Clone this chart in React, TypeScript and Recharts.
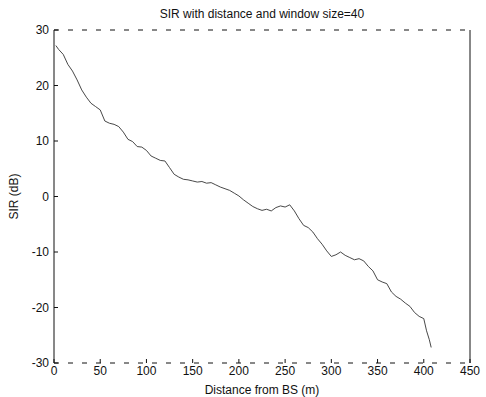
import { Label, Line, LineChart, XAxis, YAxis } from "recharts";

const distance = [
  2, 5, 10, 15, 20, 25, 30, 35, 40, 45, 50, 55, 60, 65, 70, 75, 80, 85, 90, 95,
  100, 105, 110, 115, 120, 125, 130, 135, 140, 145, 150, 155, 160, 165, 170,
  175, 180, 185, 190, 195, 200, 205, 210, 215, 220, 225, 230, 235, 240, 245,
  250, 255, 260, 265, 270, 275, 280, 285, 290, 295, 300, 305, 310, 315, 320,
  325, 330, 335, 340, 345, 350, 355, 360, 365, 370, 375, 380, 385, 390, 395,
  400, 403, 406, 408,
];

const sir = [
  27.2, 26.5, 25.6, 23.8, 22.6, 21.0, 19.2, 17.9, 16.8, 16.2, 15.6, 13.6,
  13.2, 13.0, 12.6, 11.6, 10.3, 9.9, 9.0, 8.9, 8.3, 7.3, 6.9, 6.5, 6.4, 5.2,
  4.0, 3.5, 3.1, 3.0, 2.8, 2.6, 2.7, 2.4, 2.5, 2.1, 1.7, 1.4, 1.1, 0.6, 0.1,
  -0.6, -1.2, -1.8, -2.2, -2.5, -2.3, -2.6, -2.0, -1.7, -1.9, -1.5, -2.6, -4.0,
  -5.2, -5.6, -6.4, -7.6, -8.6, -9.8, -10.8, -10.5, -10.0, -10.6, -11.0, -11.4,
  -11.2, -11.6, -12.6, -13.4, -15.0, -15.4, -15.7, -17.2, -18.0, -18.5, -19.2,
  -19.8, -20.9, -21.6, -22.0, -24.2, -25.8, -27.2,
];

const xTicks = [0, 50, 100, 150, 200, 250, 300, 350, 400, 450];
const yTicks = [-30, -20, -10, 0, 10, 20, 30];

const title = "SIR with distance and window size=40";

const data = distance.map((d, i) => ({ d, sir: sir[i] }));

const FONT = "'Liberation Sans', Arial, sans-serif";
const tickStyle = { fontSize: 12, fill: "#111", fontFamily: FONT };

export default function App() {
  return (
    <div style={{ position: "absolute", left: 0, top: 0, width: 486, height: 397, background: "#fff" }}>
      <div
        style={{
          position: "absolute",
          left: 54,
          width: 416,
          top: 7,
          textAlign: "center",
          fontSize: 12,
          fontFamily: FONT,
          color: "#111",
        }}
      >
        {title}
      </div>
      <LineChart
        width={486}
        height={397}
        data={data}
        margin={{ top: 29, right: 15, bottom: 0, left: 0 }}
      >
        <XAxis
          xAxisId="bottom"
          dataKey="d"
          type="number"
          domain={[0, 450]}
          ticks={xTicks}
          height={34}
          tickSize={-4}
          tickMargin={7}
          stroke="#111"
          axisLine={{ stroke: "#111", strokeDasharray: "5 9" }}
          tick={tickStyle}
        >
          <Label
            value="Distance from BS (m)"
            position="insideBottom"
            offset={3}
            style={{ fontSize: 12, fill: "#111", fontFamily: FONT }}
          />
        </XAxis>
        <XAxis
          xAxisId="top"
          orientation="top"
          dataKey="d"
          type="number"
          domain={[0, 450]}
          ticks={xTicks}
          height={1}
          tickSize={-4}
          tick={false}
          stroke="#111"
          axisLine={{ stroke: "#111", strokeDasharray: "5 9" }}
        />
        <YAxis
          yAxisId="left"
          type="number"
          domain={[-30, 30]}
          ticks={yTicks}
          width={54}
          tickSize={-4}
          tickMargin={9}
          stroke="#111"
          tick={tickStyle}
        >
          <Label
            value="SIR (dB)"
            angle={-90}
            position="insideLeft"
            offset={14}
            style={{ textAnchor: "middle", fontSize: 12, fill: "#111", fontFamily: FONT }}
          />
        </YAxis>
        <YAxis
          yAxisId="right"
          orientation="right"
          type="number"
          domain={[-30, 30]}
          ticks={yTicks}
          width={1}
          tickSize={-4}
          tick={false}
          stroke="#111"
        />
        <Line
          xAxisId="bottom"
          yAxisId="left"
          dataKey="sir"
          type="linear"
          stroke="#333"
          strokeWidth={0.9}
          dot={false}
          isAnimationActive={false}
        />
      </LineChart>
    </div>
  );
}
